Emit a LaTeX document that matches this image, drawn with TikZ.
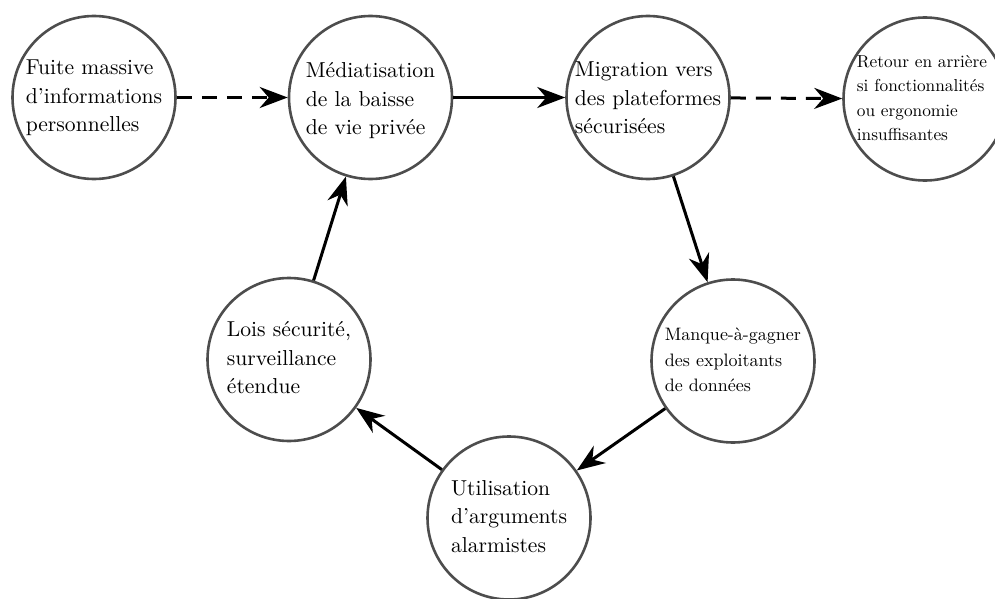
\documentclass[tikz,border=0pt]{standalone}
\usetikzlibrary{arrows.meta}
\usepackage{graphicx}
\definecolor{ringgray}{HTML}{4D4D4D}
\newcommand{\btxt}[3]{\scalebox{#1}{\fontsize{10}{#2}\selectfont\begin{tabular}{@{}l@{}}#3\end{tabular}}}
\begin{document}
\begin{tikzpicture}[x=1pt,y=-1pt,
  bub/.style={circle,draw=ringgray,line width=2.6pt,minimum size=163pt,inner sep=0pt},
  txt/.style={inner sep=0pt},
  conn/.style={line width=3pt,-{Stealth[length=28pt,width=21pt,inset=9pt]}},
  dconn/.style={conn,dash pattern=on 15pt off 10pt}]
\useasboundingbox (0,0) rectangle (995,599);
\clip (0,0) rectangle (995,599);
\node[bub] (a) at (94,97.5) {};
\node[txt] (ta) at (a) {\btxt{2.16}{13.3}{Fuite massive\\d’informations\\personnelles}};
\node[bub] (b) at (370.5,97.5) {};
\node[txt] (tb) at ([yshift=-3pt]b.center) {\btxt{2.16}{13.3}{Médiatisation\\de la baisse\\de vie privée}};
\node[bub] (c) at (648,97.5) {};
\node[txt] (tc) at ([yshift=-2pt]c.center) {\btxt{2.16}{13.3}{Migration vers\\des plateformes\\sécurisées}};
\node[bub] (d) at (925,99) {};
\node[txt] (td) at ([xshift=-3pt]d.center) {\btxt{1.73}{14.2}{Retour en arrière\\si fonctionnalités\\ou ergonomie\\insuffisantes}};
\node[bub] (e) at (733,361) {};
\node[txt] (te) at (e) {\btxt{1.8}{14.1}{Manque-à-gagner\\des exploitants\\de données}};
\node[bub] (f) at (509,518) {};
\node[txt] (tf) at (f) {\btxt{2.16}{13.3}{Utilisation\\d’arguments\\alarmistes}};
\node[bub] (g) at (289,359.5) {};
\node[txt] (tg) at (g) {\btxt{2.16}{13.3}{Lois sécurité,\\surveillance\\étendue}};
\draw[dconn] (a) -- (b);
\draw[conn] (b) -- (c);
\draw[dconn] (c) -- (d);
\draw[conn] (c) -- (e);
\draw[conn] (e) -- (f);
\draw[conn] (f) -- (g);
\draw[conn] (g) -- (b);
\end{tikzpicture}
\end{document}
